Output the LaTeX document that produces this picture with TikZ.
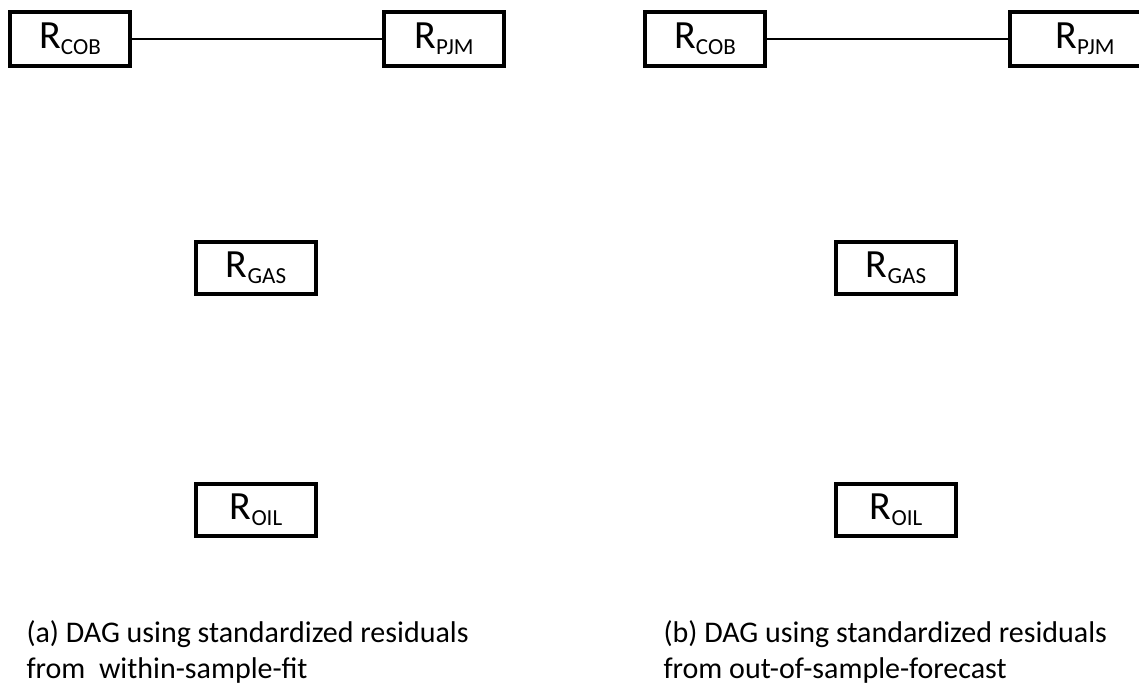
\documentclass[tikz,border=0pt]{standalone}
\usepackage{fontspec}
\setmainfont{Carlito}
\usetikzlibrary{positioning}

% variable label: big R with a lowered, smaller subscript
\newcommand{\resid}[1]{\fontsize{40}{44}\selectfont R\raisebox{-6pt}{\fontsize{23}{25}\selectfont #1}}

\begin{document}
\begin{tikzpicture}[x=1pt,y=-1pt,
  rbox/.style={draw, line width=4pt, minimum width=120pt, minimum height=54pt, inner sep=0pt},
  link/.style={line width=1.5pt},
  capt/.style={anchor=base west, align=left, font=\fontsize{30}{36}\selectfont}]
\useasboundingbox (0,0) rectangle (1139,687);
\clip (0,0) rectangle (1139,687);

% (a) within-sample-fit
\node(COBa) [rbox] at (70,39) {\resid{COB}};
\node(PJMa) [rbox] at (444,39) {\resid{PJM}};
\node(GASa) [rbox, minimum height=52pt] at (256,268) {\resid{GAS}};
\node(OILa) [rbox, minimum height=52pt] at (256,510) {\resid{OIL}};
\draw[link] (COBa.east) -- (PJMa.west);
% base anchor sits on the last line
\node(capa) [capt] at (23,678) {(a) DAG using standardized residuals\\from~~within-sample-fit};

% (b) out-of-sample-forecast
\node(COBb) [rbox] at (705,39) {\resid{COB}};
\node(PJMb) [rbox, minimum width=150pt] at (1085,39) {\resid{PJM}};
\node(GASb) [rbox, minimum height=52pt] at (896,268) {\resid{GAS}};
\node(OILb) [rbox, minimum height=52pt] at (896,510) {\resid{OIL}};
\draw[link] (COBb.east) -- (PJMb.west);
\node(capb) [capt] at (660,678) {(b) DAG using standardized residuals\\from out-of-sample-forecast};
\end{tikzpicture}
\end{document}
